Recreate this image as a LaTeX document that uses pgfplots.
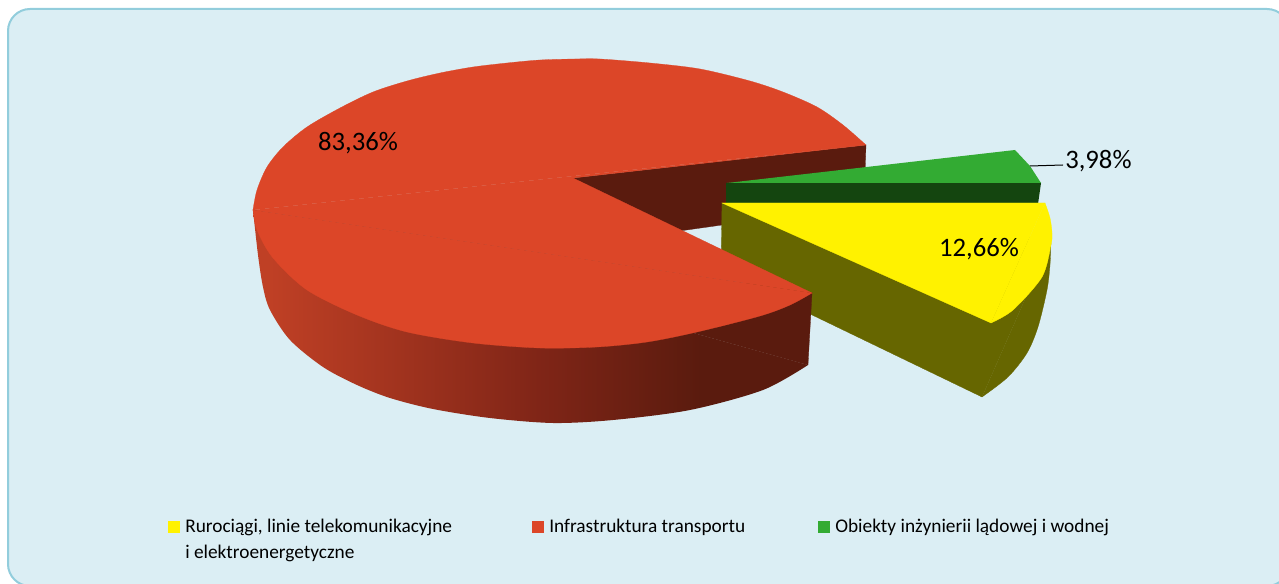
\documentclass[border=0pt]{standalone}
\usepackage{fontspec}
\setmainfont{Carlito}
\usepackage{pgfplots}
\pgfplotsset{compat=1.18}
\definecolor{panelfill}{HTML}{DBEEF4}
\definecolor{panelline}{HTML}{92CDDC}
\definecolor{redtop}{HTML}{DC4628}
\definecolor{reddark}{HTML}{5A1B0E}
\definecolor{olive}{HTML}{666600}
\definecolor{grtop}{HTML}{33AB33}
\definecolor{grdark}{HTML}{14450F}
\pgfdeclarehorizontalshading{redside}{100bp}{rgb(0bp)=(0.75,0.25,0.145); rgb(26.5bp)=(0.75,0.25,0.145); rgb(50.9bp)=(0.5,0.145,0.09); rgb(65.3bp)=(0.353,0.106,0.055); rgb(100bp)=(0.353,0.106,0.055)}
\begin{document}
\begin{tikzpicture}
\begin{axis}[
  at={(0,0)}, anchor=south west,
  scale only axis, width=959.25pt, height=438pt,
  xmin=0, xmax=1279, ymin=0, ymax=584, y dir=reverse,
  axis lines=none, ticks=none, clip=true,
  every axis plot/.append style={mark=none},
]
\draw[fill=panelfill, draw=panelline, line width=1.5pt, rounded corners=16.5pt]
  (axis cs:8,9) rectangle (axis cs:1289,586);
% red inner wall
\addplot[fill=reddark, draw=reddark, line width=0.2pt] coordinates {(573,178)(866,145)(864,205)(573,246)} --cycle;
% green slice
\addplot[fill=grdark, draw=none] coordinates {(726,183)(1041,183)(1038,204)(726,204)} --cycle;
\addplot[fill=grtop, draw=none] coordinates {(727,183)(1015,150)(1030,166)(1041,183)} --cycle;
% yellow slice
\addplot[fill=olive, draw=olive, line width=0.2pt] coordinates {(722,203)(1051,240)(982,397)(721,271)} --cycle;
\addplot[smooth, fill=olive, draw=olive, line width=0.2pt] coordinates {(1051,240)(1050,265)(1047,290)(1038,327)(1027,353)(1008,377)(982,397)};
\addplot[fill=yellow, draw=yellow, line width=0.2pt] coordinates {(722,203)(1045,203)(991,323)} --cycle;
\addplot[smooth, fill=yellow, draw=yellow, line width=0.2pt] coordinates {(1045,203)(1050,218)(1052,233)(1051,245)(1042,277)(1013,310)(991,323)};
% red side
\addplot[fill=reddark, draw=reddark, line width=0.2pt] coordinates {(253,210)(808,365)(812,293)} --cycle;
\addplot[smooth, shading=redside, draw=none] coordinates {(253,210)(258,255)(263,287)(270,310)(290,340)(323,367)(357,385)(390,398)(433,409)(490,418)(553,423)(613,420)(690,410)(763,390)(808,365)};
% red top
\addplot[fill=redtop, draw=redtop, line width=0.2pt] coordinates {(253,210)(866,145)(573,178)(812,293)} --cycle;
\addplot[smooth, fill=redtop, draw=redtop, line width=0.2pt] coordinates {(812,293)(790,305)(760,316)(697,332)(647,342)(597,347)(540,348)(473,343)(407,332)(357,315)(307,290)(273,258)(257,230)(253,210)};
\addplot[smooth, fill=redtop, draw=redtop, line width=0.2pt] coordinates {(253,210)(257,190)(267,167)(283,147)(307,127)(340,108)(373,92)(407,81)(440,73)(473,67)(507,63)(540,60)(575,59)(600,59)(650,63)(700,69)(750,81)(783,92)(817,107)(843,125)(866,145)};
% leader
\addplot[black, line width=0.75pt] coordinates {(1030,166)(1063,165)};
% data labels
\node[anchor=center, inner sep=0pt, font=\fontsize{20}{24}\selectfont] at (axis cs:358,143) {83,36\%};
\node[anchor=center, inner sep=0pt, font=\fontsize{20}{24}\selectfont] at (axis cs:979,249) {12,66\%};
\node[anchor=west, inner sep=0pt, font=\fontsize{20}{24}\selectfont] at (axis cs:1065,161) {3,98\%};
% legend
\addplot[fill=yellow, draw=none] coordinates {(168,521)(180,521)(180,533)(168,533)} --cycle;
\addplot[fill=redtop, draw=none] coordinates {(532,521)(544,521)(544,533)(532,533)} --cycle;
\addplot[fill=grtop, draw=none] coordinates {(818,521)(830,521)(830,533)(818,533)} --cycle;
\node[anchor=base west, inner sep=0pt, font=\fontsize{14.5}{17}\selectfont] at (axis cs:185,533) {Rurociągi, linie telekomunikacyjne};
\node[anchor=base west, inner sep=0pt, font=\fontsize{14.5}{17}\selectfont] at (axis cs:185,559) {i elektroenergetyczne};
\node[anchor=base west, inner sep=0pt, font=\fontsize{14.5}{17}\selectfont] at (axis cs:549,533) {Infrastruktura transportu};
\node[anchor=base west, inner sep=0pt, font=\fontsize{14.5}{17}\selectfont] at (axis cs:835,533) {Obiekty inżynierii lądowej i wodnej};
\end{axis}
\pgfresetboundingbox
\path[use as bounding box] (0,0) rectangle (959.25pt,438pt);
\end{tikzpicture}
\end{document}
